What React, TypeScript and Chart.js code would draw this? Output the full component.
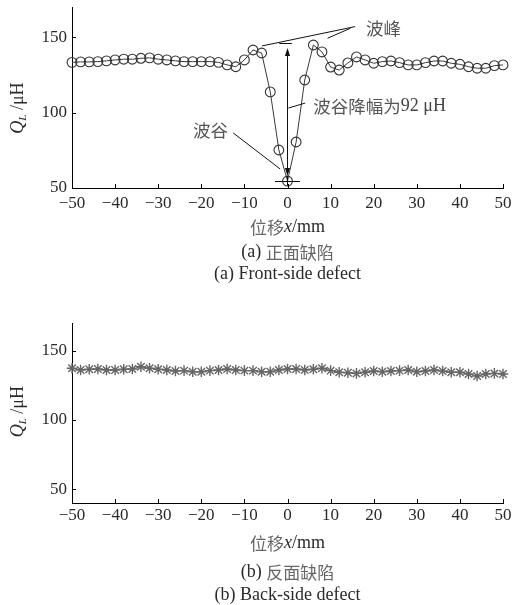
import React, { useEffect, useRef } from "react";
import { Chart, registerables } from "chart.js";

Chart.register(...registerables);

// ---------- data ----------
const xPositions = [
  -50, -48, -46, -44, -42, -40, -38, -36, -34, -32, -30, -28, -26, -24, -22, -20, -18, -16, -14, -12, -10,
  -8, -6, -4, -2, 0, 2, 4, 6, 8,
  10, 12, 14, 16, 18, 20, 22, 24, 26, 28, 30, 32, 34, 36, 38, 40, 42, 44, 46, 48, 50,
];
const frontValues = [
  133.3, 133.6, 133.6, 133.8, 134.3, 134.9, 135.4, 135.4, 136, 136.3, 135.4, 134.9, 134.3, 133.8, 133.8, 133.8, 133.8, 133.3, 131.6, 130.4, 134.9,
  141.5, 139.5, 113.7, 75.2, 54.6, 80.5, 121.6, 144.8, 140.2,
  130.2, 128.2, 132.9, 136.9, 134.9, 132.7, 133.8, 134.2, 133.1, 131.6, 131.6, 133.1, 134.2, 134.2, 132.7, 132, 130.4, 129.4, 129.4, 131.1, 131.6,
];
const backValues = [
  137.3, 136.1, 136.6, 136.8, 136.1, 136.1, 136.6, 136.8, 138.4, 137.3, 136.6, 136.1, 135.3, 135.6, 134.8, 134.8, 135.6, 136.1, 136.8, 136.1, 135.6,
  135.6, 134.8, 134.8, 136.1, 136.8, 136.8, 136.1, 136.6, 137.3,
  135.6, 134.4, 134.1, 133.6, 134.4, 135.3, 134.8, 135.3, 135.6, 136.1, 134.8, 135.3, 136.1, 135.3, 134.4, 134.4, 133.2, 131.7, 133.2, 133.6, 133.2,
];
const xTicks = [-50, -40, -30, -20, -10, 0, 10, 20, 30, 40, 50];
const yTicks = [50, 100, 150];

const xTitleCJK = "位移";
const yUnit = " /μH";
const frontCaptionCN = "正面缺陷";
const frontCaptionEN = "(a) Front-side defect";
const backCaptionCN = "反面缺陷";
const backCaptionEN = "(b) Back-side defect";

const peakLabel = "波峰";
const valleyLabel = "波谷";
const dropLabel = "波谷降幅为";
const dropValue = "92 μH";
const peakValue = 146;
const valleyValue = 54.6;

// ---------- style ----------
const SERIF = '"Liberation Serif", "Times New Roman", serif';
const CJK = '"Noto Sans CJK SC", "Noto Sans CJK JP", sans-serif';
const TXT = "#2a2a2a";
const CJKC = "#666";

type Run = { t: string; f: string; c: string; dy?: number };

function drawRuns(ctx: CanvasRenderingContext2D, runs: Run[], x: number, y: number, align: "left" | "center" | "right") {
  let total = 0;
  const widths = runs.map((r) => {
    ctx.font = r.f;
    const w = ctx.measureText(r.t).width;
    total += w;
    return w;
  });
  let cx = align === "left" ? x : align === "center" ? x - total / 2 : x - total;
  ctx.textAlign = "left";
  ctx.textBaseline = "middle";
  runs.forEach((r, i) => {
    ctx.font = r.f;
    ctx.fillStyle = r.c;
    ctx.fillText(r.t, cx, y + (r.dy || 0));
    cx += widths[i];
  });
}

function arrowHead(ctx: CanvasRenderingContext2D, x: number, tipY: number, dir: number) {
  ctx.beginPath();
  ctx.moveTo(x, tipY);
  ctx.lineTo(x - 2.6, tipY - dir * 8);
  ctx.lineTo(x + 2.6, tipY - dir * 8);
  ctx.closePath();
  ctx.fill();
}

const fmt = (v: number) => (v < 0 ? "\u2212" + Math.abs(v) : String(v));

type FrameOpts = {
  yTitleValue: number;
  xTitleY: number;
  cap1Y: number;
  cap2Y: number;
  capPrefix: string;
  capCN: string;
  capEN: string;
  notes: boolean;
};

function framePlugin(o: FrameOpts) {
  return {
    id: "frame",
    afterDraw(chart: any) {
      const { ctx, chartArea } = chart;
      const x = chart.scales.x;
      const y = chart.scales.y;
      ctx.save();
      // inward tick marks
      ctx.strokeStyle = "#000";
      ctx.lineWidth = 1;
      ctx.beginPath();
      xTicks.forEach((v) => {
        const px = Math.round(x.getPixelForValue(v)) + 0.5;
        ctx.moveTo(px, chartArea.bottom);
        ctx.lineTo(px, chartArea.bottom - 4);
      });
      yTicks.forEach((v) => {
        const py = Math.round(y.getPixelForValue(v)) + 0.5;
        ctx.moveTo(chartArea.left, py);
        ctx.lineTo(chartArea.left + 4, py);
      });
      ctx.stroke();

      const cx = (chartArea.left + chartArea.right) / 2;
      // y title (rotated)
      ctx.save();
      ctx.translate(18, y.getPixelForValue(o.yTitleValue));
      ctx.rotate(-Math.PI / 2);
      drawRuns(
        ctx,
        [
          { t: "Q", f: `italic 18px ${SERIF}`, c: TXT },
          { t: "L", f: `italic 11px ${SERIF}`, c: TXT, dy: 5 },
          { t: yUnit, f: `18px ${SERIF}`, c: TXT },
        ],
        0,
        0,
        "center"
      );
      ctx.restore();

      // x title
      drawRuns(
        ctx,
        [
          { t: xTitleCJK, f: `17px ${CJK}`, c: CJKC },
          { t: "x", f: `italic 18px ${SERIF}`, c: TXT },
          { t: "/mm", f: `18px ${SERIF}`, c: TXT },
        ],
        cx,
        o.xTitleY,
        "center"
      );
      drawRuns(
        ctx,
        [
          { t: o.capPrefix, f: `18px ${SERIF}`, c: TXT },
          { t: o.capCN, f: `17px ${CJK}`, c: CJKC },
        ],
        cx,
        o.cap1Y,
        "center"
      );
      drawRuns(ctx, [{ t: o.capEN, f: `18px ${SERIF}`, c: TXT }], cx, o.cap2Y, "center");

      if (o.notes) {
        const X = (v: number) => x.getPixelForValue(v);
        const Y = (v: number) => y.getPixelForValue(v);
        ctx.strokeStyle = "#111";
        ctx.fillStyle = "#111";
        ctx.lineWidth = 1;
        // peak leaders
        ctx.beginPath();
        ctx.moveTo(X(-5.9), Y(144.2));
        ctx.lineTo(X(15.7), Y(157));
        ctx.moveTo(X(9.3), Y(149.3));
        ctx.lineTo(X(14.6), Y(155.9));
        // peak cap
        ctx.moveTo(X(-1.9), Math.round(Y(peakValue)) + 0.5);
        ctx.lineTo(X(1.0), Math.round(Y(peakValue)) + 0.5);
        // double arrow shaft
        const ax = Math.round(X(-0.2)) + 0.5;
        ctx.moveTo(ax, Y(142.8) + 6);
        ctx.lineTo(ax, Y(58) - 6);
        ctx.moveTo(ax, Y(58));
        ctx.lineTo(ax, Y(51.5));
        // valley bar
        ctx.moveTo(X(-2.9), Math.round(Y(valleyValue)) + 0.5);
        ctx.lineTo(X(2.9), Math.round(Y(valleyValue)) + 0.5);
        // drop label leader
        ctx.moveTo(X(0.2), Y(103));
        ctx.lineTo(X(4.1), Y(106.3));
        // valley label leader
        ctx.moveTo(X(-12.6), Y(86.5));
        ctx.lineTo(X(-1.7), Y(62.6));
        ctx.stroke();
        arrowHead(ctx, ax, Y(142.8), -1);
        arrowHead(ctx, ax, Y(58), 1);

        drawRuns(ctx, [{ t: peakLabel, f: `17.5px ${CJK}`, c: "#555" }], X(18.2), Y(156), "left");
        drawRuns(ctx, [{ t: valleyLabel, f: `17.5px ${CJK}`, c: "#555" }], X(-13.8), Y(88.5), "right");
        drawRuns(
          ctx,
          [
            { t: dropLabel, f: `17.5px ${CJK}`, c: "#555" },
            { t: dropValue, f: `18px ${SERIF}`, c: "#444" },
          ],
          X(6.0),
          Y(104),
          "left"
        );
      }
      ctx.restore();
    },
  };
}

function buildConfig(values: number[], back: boolean) {
  const data = xPositions.map((xv, i) => ({ x: xv, y: values[i] }));
  const ds: any = back
    ? {
        data,
        borderColor: "#5a5a5a",
        borderWidth: 1,
        pointStyle: "star",
        pointRadius: 5.3,
        pointBorderColor: "#666",
        pointBorderWidth: 1.4,
        pointBackgroundColor: "rgba(0,0,0,0)",
        tension: 0,
        clip: false,
      }
    : {
        data,
        borderColor: "#3a3a3a",
        borderWidth: 1,
        pointStyle: "circle",
        pointRadius: 4.9,
        pointBorderColor: "#333",
        pointBorderWidth: 1.1,
        pointBackgroundColor: "rgba(0,0,0,0)",
        tension: 0,
        clip: false,
      };
  const h = back ? 305 : 300;
  const top = back ? 23 : 7;
  const bottom = back ? 203 : 188;
  return {
    type: "line" as const,
    data: { datasets: [ds] },
    options: {
      animation: false as const,
      responsive: false,
      devicePixelRatio: 1,
      layout: { padding: { left: 0, right: 9, top, bottom: 0 } },
      plugins: { legend: { display: false }, tooltip: { enabled: false }, title: { display: false } },
      scales: {
        x: {
          type: "linear" as const,
          min: -50,
          max: 50,
          grid: { display: false, drawTicks: false },
          border: { display: true, color: "#000", width: 1 },
          ticks: {
            padding: back ? 2 : 5,
            color: TXT,
            font: { family: SERIF, size: 17 },
            maxRotation: 0,
            autoSkip: false,
            callback: (v: any) => fmt(Number(v)),
          },
          afterBuildTicks: (s: any) => {
            s.ticks = xTicks.map((v) => ({ value: v }));
          },
          afterFit: (s: any) => {
            s.height = h - bottom;
            s.paddingLeft = 0;
            s.paddingRight = 0;
          },
        },
        y: {
          type: "linear" as const,
          min: back ? 40 : 50,
          max: 170,
          grid: { display: false, drawTicks: false },
          border: { display: true, color: "#000", width: 1 },
          ticks: {
            padding: 5,
            color: TXT,
            font: { family: SERIF, size: 17 },
            callback: (v: any) => fmt(Number(v)),
          },
          afterBuildTicks: (s: any) => {
            s.ticks = yTicks.map((v) => ({ value: v }));
          },
          afterFit: (s: any) => {
            s.width = 72;
            s.paddingTop = 0;
            s.paddingBottom = 0;
          },
        },
      },
    },
    plugins: [
      framePlugin(
        back
          ? {
              yTitleValue: 106,
              xTitleY: 243.5,
              cap1Y: 272.5,
              cap2Y: 295,
              capPrefix: "(b) ",
              capCN: backCaptionCN,
              capEN: backCaptionEN,
              notes: false,
            }
          : {
              yTitleValue: 103,
              xTitleY: 227.5,
              cap1Y: 252.5,
              cap2Y: 274.5,
              capPrefix: "(a) ",
              capCN: frontCaptionCN,
              capEN: frontCaptionEN,
              notes: true,
            }
      ),
    ],
  };
}

export default function App() {
  const topRef = useRef<HTMLCanvasElement>(null);
  const botRef = useRef<HTMLCanvasElement>(null);
  useEffect(() => {
    document.body.style.margin = "0";
    document.body.style.background = "#fff";
    const c1 = new Chart(topRef.current as HTMLCanvasElement, buildConfig(frontValues, false) as any);
    const c2 = new Chart(botRef.current as HTMLCanvasElement, buildConfig(backValues, true) as any);
    return () => {
      c1.destroy();
      c2.destroy();
    };
  }, []);
  return (
    <div style={{ width: 512, background: "#fff" }}>
      <canvas ref={topRef} width={512} height={300} style={{ display: "block", width: 512, height: 300 }} />
      <canvas ref={botRef} width={512} height={305} style={{ display: "block", width: 512, height: 305 }} />
    </div>
  );
}
